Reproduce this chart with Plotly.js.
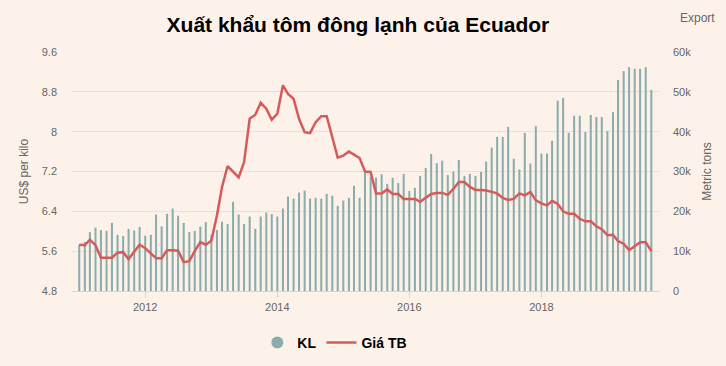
<!DOCTYPE html>
<html>
<head>
<meta charset="utf-8">
<script src="https://cdn.plot.ly/plotly-3.0.1.min.js"></script>
<style>html,body{margin:0;padding:0;background:#fdf2e9;}#chart{width:726px;height:366px;}</style>
</head>
<body>
<div id="chart"></div>
<script>
// Monthly data, Jan 2011 – Sep 2019
const startYear = 2011, startMonth = 1;
const volumeKL = [
  11.6, 12.3, 14.8, 15.9, 15.3, 15.1, 17.1, 14.1, 13.8, 15.6, 15.2, 16.1,
  13.9, 14.1, 19.2, 16.2, 19.4, 20.7, 18.9, 17.1, 14.8, 15.1, 16.2, 17.3,
  14.1, 15.3, 17.4, 16.8, 22.4, 19.2, 16.8, 18.7, 15.6, 18.7, 19.7, 19.3,
  18.7, 20.7, 23.7, 23.2, 24.7, 25.2, 23.2, 23.4, 23.2, 24.4, 23.9, 21.4,
  22.7, 23.4, 26.4, 23.4, 29.9, 28.7, 28.5, 29.3, 26.9, 28.4, 27.1, 29.4,
  25.1, 25.9, 28.9, 30.9, 34.4, 32.1, 32.7, 29.1, 30.0, 32.9, 28.9, 29.4,
  28.9, 29.9, 32.5, 36.0, 38.7, 38.7, 41.2, 33.2, 30.5, 39.7, 32.0, 41.4,
  34.5, 34.5, 37.7, 47.8, 48.5, 39.7, 44.0, 44.0, 39.9, 44.2, 43.7, 43.7,
  40.2, 44.9, 53.0, 55.2, 56.2, 55.8, 55.8, 56.2, 50.5
];
const priceTB = [
  5.73, 5.72, 5.83, 5.72, 5.47, 5.47, 5.47, 5.57, 5.58, 5.44, 5.58, 5.73,
  5.66, 5.56, 5.46, 5.46, 5.62, 5.62, 5.61, 5.38, 5.40, 5.60, 5.78, 5.73,
  5.81, 6.32, 6.89, 7.31, 7.19, 7.08, 7.39, 8.26, 8.34, 8.58, 8.46, 8.24,
  8.36, 8.93, 8.76, 8.66, 8.26, 7.99, 7.97, 8.19, 8.31, 8.31, 7.89, 7.48,
  7.52, 7.60, 7.54, 7.47, 7.20, 7.19, 6.76, 6.76, 6.84, 6.75, 6.75, 6.65,
  6.65, 6.65, 6.59, 6.68, 6.75, 6.77, 6.77, 6.73, 6.85, 6.99, 6.99, 6.89,
  6.83, 6.83, 6.82, 6.79, 6.76, 6.67, 6.63, 6.65, 6.76, 6.72, 6.79, 6.62,
  6.56, 6.52, 6.61, 6.55, 6.40, 6.35, 6.35, 6.25, 6.20, 6.20, 6.10, 6.04,
  5.92, 5.93, 5.80, 5.75, 5.62, 5.70, 5.78, 5.78, 5.60
];
const xTickVals = ['2012-01-01', '2014-01-01', '2016-01-01', '2018-01-01'];
const xTickText = ['2012', '2014', '2016', '2018'];
const leftTickVals = [4.8, 5.6, 6.4, 7.2, 8.0, 8.8, 9.6];
const leftTickText = ['4.8', '5.6', '6.4', '7.2', '8', '8.8', '9.6'];
const rightTickVals = [0, 10000, 20000, 30000, 40000, 50000, 60000];
const rightTickText = ['0', '10k', '20k', '30k', '40k', '50k', '60k'];

const months = volumeKL.map((_, i) => {
  const m = startMonth - 1 + i;
  const y = startYear + Math.floor(m / 12);
  const mm = (m % 12) + 1;
  return y + '-' + String(mm).padStart(2, '0') + '-01';
});

const barColor = '#8aacac';
const lineColor = '#d65a5a';
const font = 'Liberation Sans, Arial, sans-serif';

const traces = [
  {
    x: [null], y: [null], type: 'scatter', mode: 'markers', name: '<b>KL</b>',
    marker: {color: barColor, size: 12, symbol: 'circle'}, yaxis: 'y', hoverinfo: 'skip'
  },
  {
    x: months, y: volumeKL.map(v => v * 1000), type: 'bar', name: 'KL',
    marker: {color: barColor}, yaxis: 'y', showlegend: false
  },
  {
    x: months, y: priceTB, type: 'scatter', mode: 'lines', name: '<b>Giá TB</b>',
    line: {color: lineColor, width: 2.5}, yaxis: 'y2'
  }
];

const layout = {
  width: 726, height: 366,
  paper_bgcolor: '#fdf2e9', plot_bgcolor: '#fdf2e9',
  margin: {l: 72, r: 66, t: 52, b: 75, autoexpand: false},
  bargap: 0.6,
  font: {family: font, color: '#666666', size: 11},
  title: {
    text: '<b>Xuất khẩu tôm đông lạnh của Ecuador</b>',
    font: {family: font, size: 21, color: '#000000'},
    x: 0.493, xref: 'container', xanchor: 'center',
    y: 0.932, yref: 'container', yanchor: 'middle'
  },
  xaxis: {
    type: 'date',
    range: ['2010-11-22', '2019-10-19'],
    tickvals: xTickVals, ticktext: xTickText,
    ticks: 'outside', ticklen: 6, tickcolor: '#ccd6eb',
    showline: true, linecolor: '#ccd6eb', linewidth: 1,
    showgrid: false, zeroline: false,
    tickfont: {size: 11, color: '#666666'}
  },
  yaxis: {
    side: 'right', range: [0, 60000],
    tickvals: rightTickVals, ticktext: rightTickText,
    showgrid: true, gridcolor: '#e6e1dc', gridwidth: 1, zeroline: false,
    tickfont: {size: 11, color: '#666666'},
    ticks: '', ticklabelstandoff: 12,
    title: {text: 'Metric tons', font: {size: 12, color: '#666666'}, standoff: 12}
  },
  yaxis2: {
    overlaying: 'y', side: 'left', range: [4.8, 9.6],
    tickvals: leftTickVals, ticktext: leftTickText,
    showgrid: false, zeroline: false,
    tickfont: {size: 11, color: '#666666'},
    ticks: '', ticklabelstandoff: 14,
    title: {text: 'US$ per kilo', font: {size: 12, color: '#666666'}, standoff: 10}
  },
  legend: {
    orientation: 'h', x: 0.447, xanchor: 'center',
    yref: 'container', y: 0.063, yanchor: 'middle',
    font: {family: font, size: 14, color: '#000000'},
    bgcolor: 'rgba(0,0,0,0)', itemwidth: 30
  },
  annotations: [{
    text: 'Export', xref: 'paper', yref: 'paper', x: 1.063, y: 1.142,
    xanchor: 'center', yanchor: 'middle', showarrow: false,
    font: {family: font, size: 12, color: '#666666'}
  }],
  showlegend: true
};

Plotly.newPlot('chart', traces, layout, {displayModeBar: false, staticPlot: true});
</script>
</body>
</html>
